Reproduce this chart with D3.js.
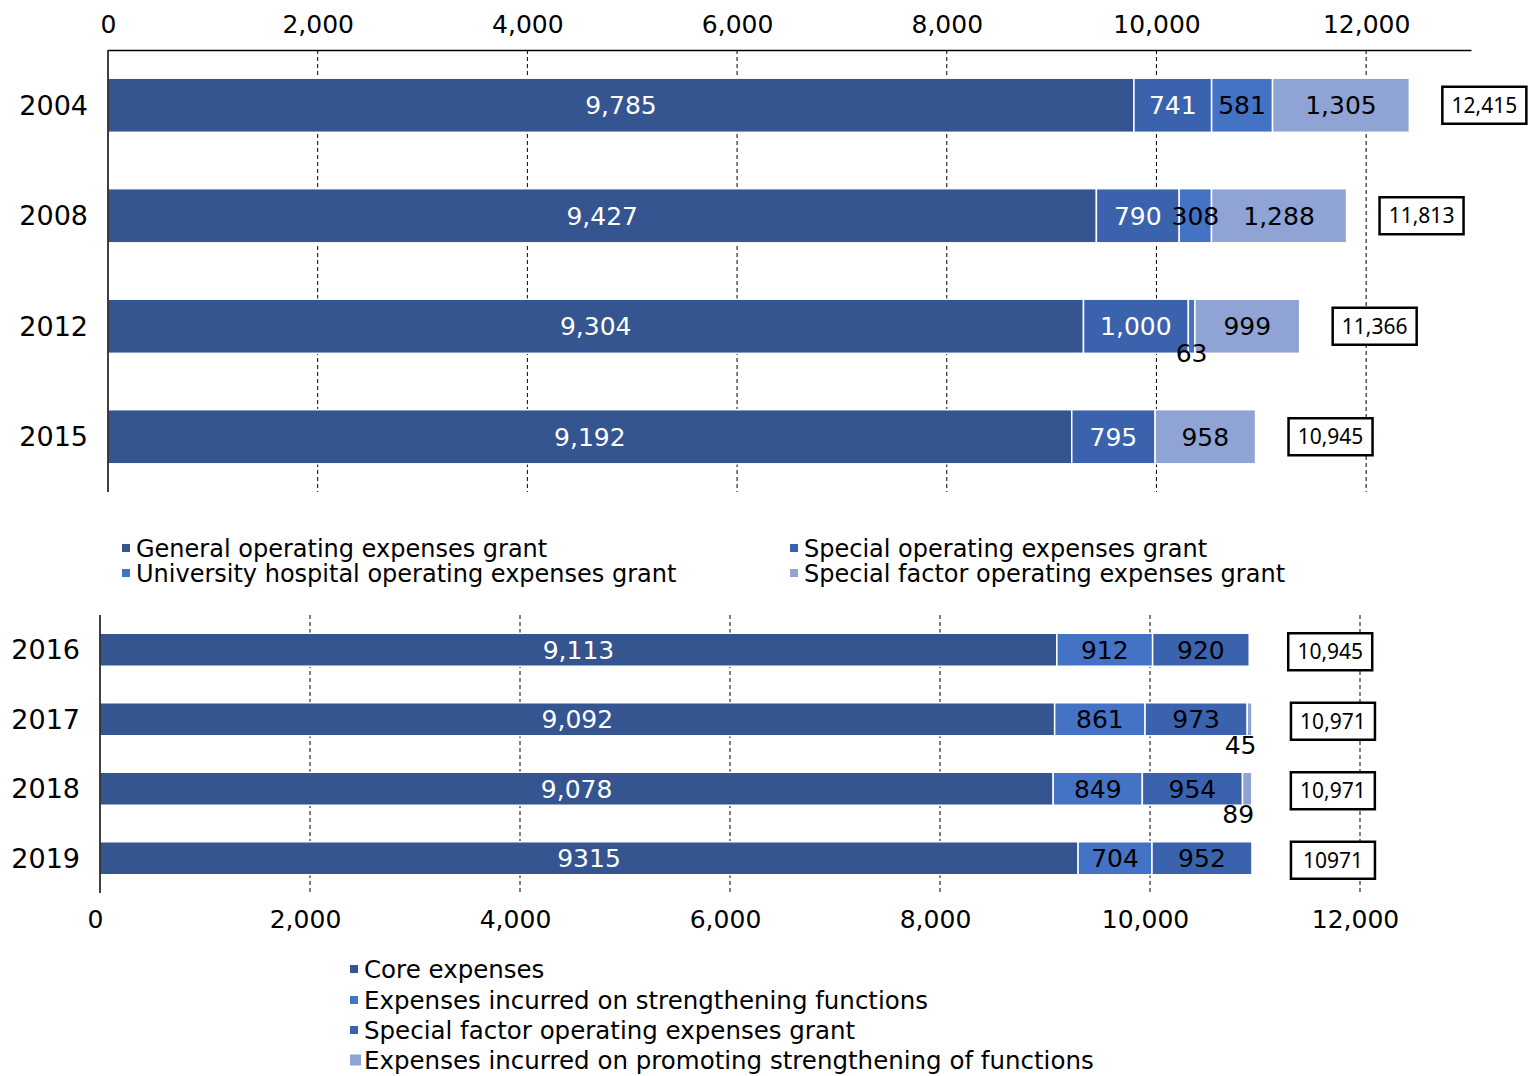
<!DOCTYPE html>
<html>
<head>
<meta charset="utf-8">
<script src="https://cdn.jsdelivr.net/npm/d3@7"></script>
<style>
  body { margin: 0; background: #fff; }
  svg { display: block; font-family: "DejaVu Sans", sans-serif; }
</style>
</head>
<body>
<div id="chart"></div>
<script>
// upper chart (2004-2015)
const topYears = ["2004", "2008", "2012", "2015"];
const topGeneral = [9785, 9427, 9304, 9192];
const topSpecial = [741, 790, 1000, 795];
const topHospital = [581, 308, 63, 0];
const topSpecialFactor = [1305, 1288, 999, 958];
const topTotals = ["12,415", "11,813", "11,366", "10,945"];
const topSeriesNames = [
    "General operating expenses grant",
    "Special operating expenses grant",
    "University hospital operating expenses grant",
    "Special factor operating expenses grant"
];

// lower chart (2016-2019)
const bottomYears = ["2016", "2017", "2018", "2019"];
const bottomCore = [9113, 9092, 9078, 9315];
const bottomStrengthening = [912, 861, 849, 704];
const bottomSpecialFactor = [920, 973, 954, 952];
const bottomPromoting = [0, 45, 89, 0];
const bottomTotals = ["10,945", "10,971", "10,971", "10971"];
const bottomLabelFormats = [",", ",", ",", "d"];
const bottomSeriesNames = [
    "Core expenses",
    "Expenses incurred on strengthening functions",
    "Special factor operating expenses grant",
    "Expenses incurred on promoting strengthening of functions"
];

const tickValues = [0, 2000, 4000, 6000, 8000, 10000, 12000];

const DARK = "#34558f", MID = "#3b63ad", BRIGHT = "#4472c4", LIGHT = "#8fa4d4";

const svg = d3.select("#chart").append("svg")
    .attr("width", 1531)
    .attr("height", 1076);

function drawChart(cfg) {
    const keys = cfg.series.map(s => s.key);
    const data = cfg.years.map((year, i) => {
        const row = { year, i };
        cfg.series.forEach(s => { row[s.key] = s.values[i]; });
        return row;
    });

    const x = d3.scaleLinear().domain([0, 13000]).range([cfg.left, cfg.right]);
    const y = d3.scaleBand()
        .domain(cfg.years)
        .range([cfg.top, cfg.bottom])
        .paddingInner(cfg.pad)
        .paddingOuter(cfg.pad / 2);

    const g = svg.append("g");

    // dashed gridlines
    g.append("g")
        .selectAll("line")
        .data(tickValues.slice(1))
        .enter().append("line")
        .attr("x1", d => x(d)).attr("x2", d => x(d))
        .attr("y1", cfg.top).attr("y2", cfg.bottom)
        .attr("stroke", "#000")
        .attr("stroke-width", 1)
        .attr("stroke-dasharray", "4,3");

    const stacked = d3.stack().keys(keys)(data);

    g.append("g")
        .selectAll("g")
        .data(stacked)
        .enter().append("g")
        .attr("fill", (d, i) => cfg.series[i].color)
        .selectAll("rect")
        .data(d => d.filter(p => p[1] - p[0] > 0))
        .enter().append("rect")
        .attr("x", d => x(d[0]))
        .attr("y", d => y(d.data.year))
        .attr("width", d => x(d[1]) - x(d[0]))
        .attr("height", y.bandwidth())
        .attr("stroke", "#fff")
        .attr("stroke-width", 1.5);

    // segment labels
    stacked.forEach((layer, si) => {
        g.append("g")
            .selectAll("text")
            .data(layer.filter(p => p[1] - p[0] > 0))
            .enter().append("text")
            .attr("x", d => x((d[0] + d[1]) / 2) - (d[1] - d[0] < 100 ? cfg.smallShift : 0))
            .attr("y", d => (d[1] - d[0] < 100)
                ? y(d.data.year) + y.bandwidth() + cfg.smallDy
                : y(d.data.year) + y.bandwidth() / 2)
            .attr("dy", "0.36em")
            .attr("text-anchor", "middle")
            .attr("font-size", 25)
            .attr("fill", d => (d[1] - d[0] < 100) ? "#000" : cfg.series[si].labelColor)
            .text(d => d3.format(cfg.formats ? cfg.formats[d.data.i] : ",")(d[1] - d[0]));
    });

    // total boxes
    const totals = g.append("g")
        .selectAll("g")
        .data(data)
        .enter().append("g")
        .attr("transform", d => {
            const sum = d3.sum(keys, k => d[k]);
            return `translate(${x(sum) + cfg.boxOffset},${y(d.year) + y.bandwidth() / 2 + cfg.boxDy})`;
        });
    totals.append("rect")
        .attr("x", -42).attr("y", -18.5)
        .attr("width", 84).attr("height", 37)
        .attr("fill", "#fff")
        .attr("stroke", "#000")
        .attr("stroke-width", 2.5);
    totals.append("text")
        .attr("text-anchor", "middle")
        .attr("dy", "0.36em")
        .attr("font-family", "'Noto Sans', sans-serif")
        .attr("font-size", 21)
        .text(d => cfg.totals[d.i]);

    // value axis
    const axis = cfg.axisOnTop
        ? d3.axisTop(x).tickValues(tickValues).tickSize(0).tickPadding(17)
        : d3.axisBottom(x).tickValues(tickValues).tickSize(0).tickPadding(17);
    const ax = g.append("g")
        .attr("transform", `translate(0,${cfg.axisOnTop ? cfg.top : cfg.bottom})`)
        .call(axis.tickFormat(d3.format(",")));
    ax.selectAll("text")
        .attr("font-size", 25)
        .attr("font-family", "'DejaVu Sans', sans-serif")
        .attr("fill", "#000");
    if (cfg.axisOnTop) {
        ax.select(".domain").attr("stroke", "#000").attr("stroke-width", 1.5);
    } else {
        ax.select(".domain").remove();
        ax.selectAll("text").attr("dx", "-0.2em");
    }

    // category axis line and labels
    g.append("line")
        .attr("x1", cfg.left).attr("x2", cfg.left)
        .attr("y1", cfg.top).attr("y2", cfg.bottom)
        .attr("stroke", "#000")
        .attr("stroke-width", 1.5);

    g.append("g")
        .selectAll("text")
        .data(cfg.years)
        .enter().append("text")
        .attr("x", cfg.left - cfg.yearGap)
        .attr("y", d => y(d) + y.bandwidth() / 2)
        .attr("dy", "0.36em")
        .attr("text-anchor", "end")
        .attr("font-size", 27)
        .text(d => d);
}

function drawLegend(items, positions, size, fontSize) {
    const lg = svg.append("g")
        .selectAll("g")
        .data(items)
        .enter().append("g")
        .attr("transform", (d, i) => `translate(${positions[i][0]},${positions[i][1]})`);
    lg.append("rect")
        .attr("x", 0).attr("y", (d, i) => -size[i] / 2)
        .attr("width", (d, i) => size[i])
        .attr("height", (d, i) => size[i])
        .attr("fill", d => d.color);
    lg.append("text")
        .attr("x", 14)
        .attr("dy", "0.36em")
        .attr("font-size", fontSize)
        .text(d => d.name);
}

const topSeries = [
    { key: "general", values: topGeneral, color: DARK, labelColor: "#fff" },
    { key: "special", values: topSpecial, color: MID, labelColor: "#fff" },
    { key: "hospital", values: topHospital, color: BRIGHT, labelColor: "#000" },
    { key: "factor", values: topSpecialFactor, color: LIGHT, labelColor: "#000" }
];

const bottomSeries = [
    { key: "core", values: bottomCore, color: DARK, labelColor: "#fff" },
    { key: "strength", values: bottomStrengthening, color: BRIGHT, labelColor: "#000" },
    { key: "factor", values: bottomSpecialFactor, color: MID, labelColor: "#000" },
    { key: "promote", values: bottomPromoting, color: LIGHT, labelColor: "#000" }
];

drawChart({
    years: topYears, series: topSeries, totals: topTotals,
    left: 108, right: 1471, top: 50, bottom: 492, pad: 0.51,
    axisOnTop: true, yearGap: 20, boxOffset: 75, boxDy: 0,
    smallDy: 0, smallShift: 0
});

drawChart({
    years: bottomYears, series: bottomSeries, totals: bottomTotals, formats: bottomLabelFormats,
    left: 100, right: 1465, top: 615, bottom: 893, pad: 0.525,
    axisOnTop: false, yearGap: 20, boxOffset: 81, boxDy: 2,
    smallDy: 9, smallShift: 9
});

drawLegend(
    topSeries.map((s, i) => ({ name: topSeriesNames[i], color: s.color })),
    [[122, 548], [790, 548], [122, 573], [790, 573]],
    [8, 8, 8, 8], 24
);

drawLegend(
    bottomSeries.map((s, i) => ({ name: bottomSeriesNames[i], color: s.color })),
    [[350, 969], [350, 1000], [350, 1030], [350, 1060]],
    [8, 8, 8, 11], 24.5
);
</script>
</body>
</html>
